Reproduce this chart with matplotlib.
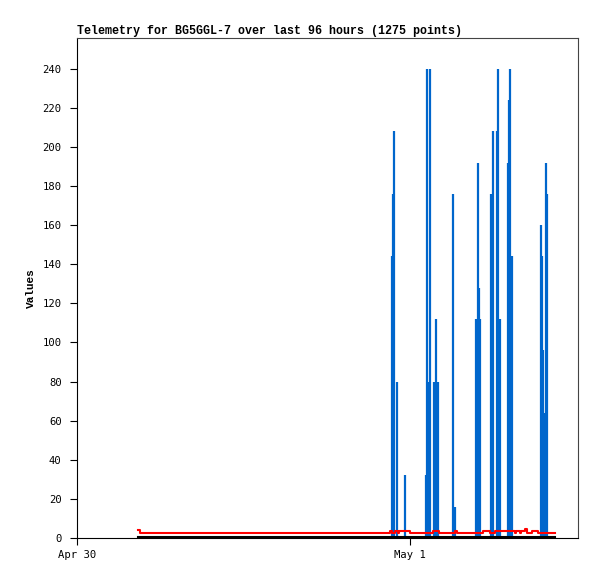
#! /usr/bin/env python3

import datetime as dt
import matplotlib
matplotlib.use("Agg")
import matplotlib.pyplot as plt
import matplotlib.dates as mdates
from matplotlib.ticker import FuncFormatter

# hours after Apr 30 00:00
blue_hours = [22.67, 22.74, 22.85, 23.06, 23.64, 25.15, 25.23, 25.33, 25.41, 25.73,
              25.87, 25.98, 27.10, 27.21, 28.74, 28.80, 28.86, 28.94, 29.05, 29.84,
              29.98, 30.27, 30.34, 30.45, 31.03, 31.13, 31.21, 31.28, 31.34, 33.44,
              33.51, 33.59, 33.66, 33.77, 33.87]
blue_values = [144, 176, 208, 80, 32, 32, 240, 80, 240, 80,
               112, 80, 176, 16, 112, 112, 192, 128, 112, 176,
               208, 208, 240, 112, 192, 224, 240, 144, 144, 160,
               144, 96, 64, 192, 176]

red_hours = [4.40, 4.54, 22.56, 22.70, 22.92, 23.13, 23.21, 24.00, 25.66, 26.09,
             27.24, 27.39, 29.26, 29.77, 30.13, 31.57, 31.64, 31.93, 32.00, 32.29,
             32.40, 32.43, 32.79, 33.23, 34.45]
red_values = [4.0, 2.8, 3.6, 2.8, 3.6, 2.8, 3.6, 2.8, 3.6, 2.8,
              3.6, 2.8, 3.6, 2.8, 3.6, 2.8, 3.6, 2.8, 3.6, 4.5,
              3.6, 2.8, 3.6, 2.8, 2.8]

black_hours = [4.40, 34.45]
black_values = [0, 0]

start = dt.datetime(2024, 4, 30)
def to_dates(hours):
    return [start + dt.timedelta(hours=h) for h in hours]

fig = plt.figure(figsize=(5.97, 5.79), dpi=100)
ax = fig.add_axes([77/597, 41/579, 501/597, 500/579])

ax.vlines(to_dates(blue_hours), 0, blue_values, color='#0066cc', linewidth=1.6)
ax.plot(to_dates(red_hours), red_values, color='#ff0000', linewidth=1.5,
        drawstyle='steps-post')
ax.plot(to_dates(black_hours), [v + 0.4 for v in black_values], color='black',
        linewidth=1.5, clip_on=False)

ax.set_xlim(start, start + dt.timedelta(hours=36.1))
ax.set_ylim(0, 255.7)
ax.set_yticks(range(0, 241, 20))
ax.xaxis.set_major_locator(mdates.DayLocator())
ax.xaxis.set_major_formatter(FuncFormatter(
    lambda v, p: "{:%b} {}".format(mdates.num2date(v), mdates.num2date(v).day)))

for s in ['top', 'right']:
    ax.spines[s].set_color('#444444')
for s in ['left', 'bottom']:
    ax.spines[s].set_color('black')
ax.tick_params(direction='out', length=5, width=0.8, labelsize=7.6)
ax.tick_params(axis='y', pad=6)
ax.tick_params(axis='x', pad=4)
for lbl in ax.get_xticklabels() + ax.get_yticklabels():
    lbl.set_family('DejaVu Sans Mono')

ax.set_ylabel('Values', family='Liberation Mono', fontweight='bold', fontsize=8, labelpad=5)
ax.set_title('Telemetry for BG5GGL-7 over last 96 hours (1275 points)', loc='left',
             family='Liberation Mono', fontweight='bold', fontsize=8.4, pad=3)

fig.savefig('out.png', dpi=100)
